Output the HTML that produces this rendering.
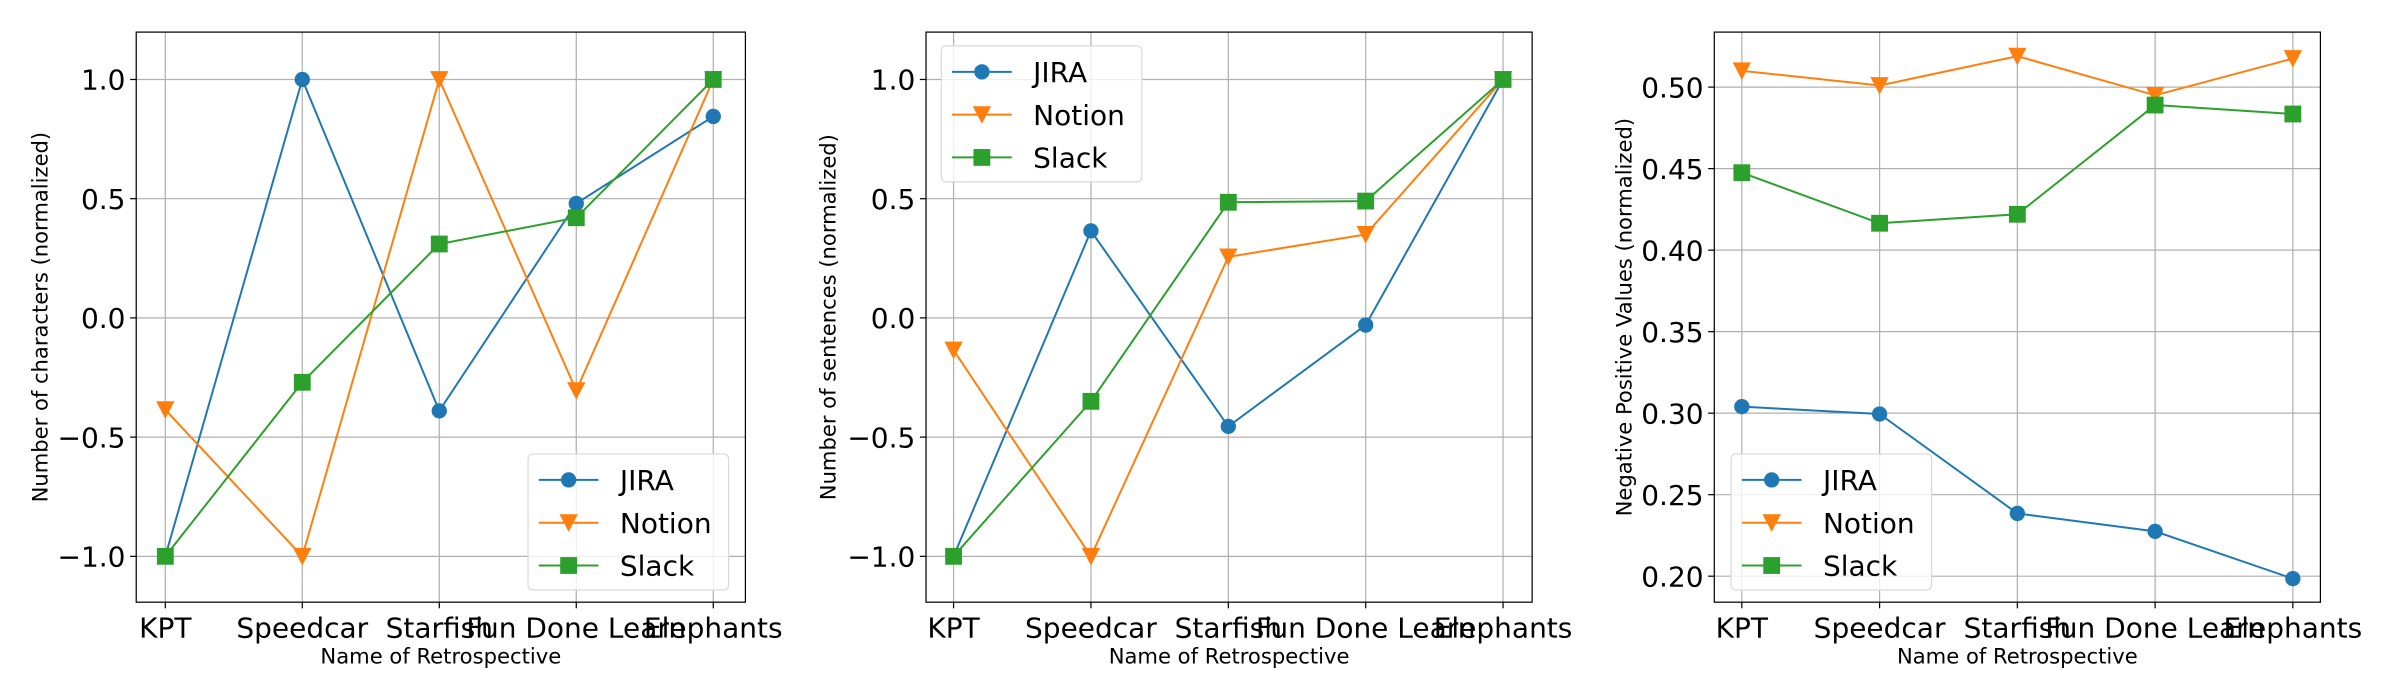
<!DOCTYPE html>
<html><head><meta charset="utf-8"><style>
html,body{margin:0;padding:0;background:#fff;}
svg{display:block;font-family:"DejaVu Sans","Liberation Sans",sans-serif;}
</style></head><body>
<svg id="chart" width="2400" height="700" viewBox="0 0 1568 458" preserveAspectRatio="none" xmlns="http://www.w3.org/2000/svg"></svg>
<script>
const categories = ["KPT","Speedcar","Starfish","Fun Done Learn","Elephants"];
const seriesNames = ["JIRA","Notion","Slack"];
const charsJira = [-1, 1, -0.39, 0.48, 0.845];
const charsNotion = [-0.385, -1, 1, -0.305, 1];
const charsSlack = [-1, -0.27, 0.31, 0.42, 1];
const sentJira = [-1, 0.365, -0.455, -0.03, 1];
const sentNotion = [-0.135, -1, 0.256, 0.35, 1];
const sentSlack = [-1, -0.35, 0.485, 0.49, 1];
const npJira = [0.304, 0.2995, 0.2385, 0.2275, 0.1985];
const npNotion = [0.510, 0.501, 0.519, 0.495, 0.5175];
const npSlack = [0.4475, 0.4165, 0.422, 0.489, 0.4835];
const ticksNorm = [-1.0, -0.5, 0.0, 0.5, 1.0];
const tickLabelsNorm = ["\u22121.0","\u22120.5","0.0","0.5","1.0"];
const ticksNeg = [0.20,0.25,0.30,0.35,0.40,0.45,0.50];
const tickLabelsNeg = ["0.20","0.25","0.30","0.35","0.40","0.45","0.50"];

const colors = ["#1f77b4","#ff7f0e","#2ca02c"];
const NS = "http://www.w3.org/2000/svg";
const svg = document.getElementById("chart");
const FS = 18.3;
function mk(tag, attrs, parent){const e=document.createElementNS(NS,tag);for(const k in attrs)e.setAttribute(k,attrs[k]);(parent||svg).appendChild(e);return e;}

function marker(g, kind, x, y, c){
  let m;
  if(kind===0) m=mk("circle",{cx:x,cy:y,r:5,fill:c},g);
  else if(kind===1) m=mk("polygon",{points:`${x-6},${y-5.5} ${x+6},${y-5.5} ${x},${y+6}`,fill:c},g);
  else m=mk("rect",{x:x-5.5,y:y-5.5,width:11,height:11,fill:c},g);
  return m;
}

function drawChart(cfg){
  const g = mk("g",{});
  
  
  const {L,R,T,B,xfirst,xlast} = cfg;
  const xs = i => xfirst + (xlast-xfirst)*i/(categories.length-1);
  const ys = v => cfg.y0 + (v - cfg.v0)*(cfg.y1-cfg.y0)/(cfg.v1-cfg.v0);
  cfg.ticks.forEach((t,i)=>{
    const y=ys(t);
    const gl=mk("line",{x1:L,x2:R,y1:y,y2:y,stroke:"#b0b0b0","stroke-width":0.8},g);
    
    
    mk("line",{x1:L-4,x2:L,y1:y,y2:y,stroke:"#000","stroke-width":0.8},g);
    const tl=mk("text",{x:L-7,y:y+6.7,"text-anchor":"end","font-size":FS},g);
    tl.textContent=cfg.tickLabels[i];
    
    
  });
  categories.forEach((c,i)=>{
    const x=xs(i);
    const gl=mk("line",{x1:x,x2:x,y1:T,y2:B,stroke:"#b0b0b0","stroke-width":0.8},g);
    
    
    mk("line",{x1:x,x2:x,y1:B,y2:B+4,stroke:"#000","stroke-width":0.8},g);
    const tl=mk("text",{x:x,y:B+23,"text-anchor":"middle","font-size":FS},g);
    tl.textContent=c;
    
    
  });
  cfg.series.forEach((vals,si)=>{
    const sg=mk("g",{},g);
    
    
    const pts=vals.map((v,i)=>xs(i)+","+ys(v)).join(" ");
    mk("polyline",{points:pts,fill:"none",stroke:colors[si],"stroke-width":1.3},sg);
    vals.forEach((v,i)=>{
      const m=marker(sg,si,xs(i),ys(v),colors[si]);
      
      
    });
  });
  const fr=mk("rect",{x:L,y:T,width:R-L,height:B-T,fill:"none",stroke:"#000","stroke-width":0.8},g);
  
  
  const xl=mk("text",{x:(L+R)/2,y:434,"text-anchor":"middle","font-size":13.8},g);
  xl.textContent="Name of Retrospective";
  
  
  const yl=mk("text",{x:0,y:0,"text-anchor":"middle","font-size":13.8,transform:`translate(${cfg.ylx},${(T+B)/2}) rotate(-90)`},g);
  yl.textContent=cfg.ylabel;
  
  
  const lg=mk("g",{},g);
  
  
  mk("rect",{x:cfg.lx,y:cfg.ly,width:131,height:89,rx:3,fill:"#fff","fill-opacity":0.8,stroke:"#d9d9d9","stroke-width":0.8},lg);
  seriesNames.forEach((n,si)=>{
    const y=cfg.ly+17+si*28;
    const e=mk("g",{},lg);
    
    
    mk("line",{x1:cfg.lx+7,x2:cfg.lx+46,y1:y,y2:y,stroke:colors[si],"stroke-width":1.3},e);
    marker(e,si,cfg.lx+26.5,y,colors[si]);
    const t=mk("text",{x:cfg.lx+60,y:y+6.7,"font-size":FS},e);
    t.textContent=n;
  });
}

drawChart({name:"characters-chart",L:89,R:487,T:21,B:394,xfirst:108,xlast:466,v0:0,y0:208,v1:1,y1:52,
  ticks:ticksNorm,tickLabels:tickLabelsNorm,series:[charsJira,charsNotion,charsSlack],
  ylabel:"Number of characters (normalized)",ylx:31,lx:345,ly:297});
drawChart({name:"sentences-chart",L:605,R:1001,T:21,B:394,xfirst:623,xlast:982,v0:0,y0:208,v1:1,y1:52,
  ticks:ticksNorm,tickLabels:tickLabelsNorm,series:[sentJira,sentNotion,sentSlack],
  ylabel:"Number of sentences (normalized)",ylx:546,lx:615,ly:30});
drawChart({name:"negative-positive-chart",L:1120,R:1516,T:21,B:394,xfirst:1138,xlast:1498,v0:0.20,y0:377,v1:0.50,y1:57,
  ticks:ticksNeg,tickLabels:tickLabelsNeg,series:[npJira,npNotion,npSlack],
  ylabel:"Negative Positive Values (normalized)",ylx:1066,lx:1131,ly:297});
</script>
</body></html>
